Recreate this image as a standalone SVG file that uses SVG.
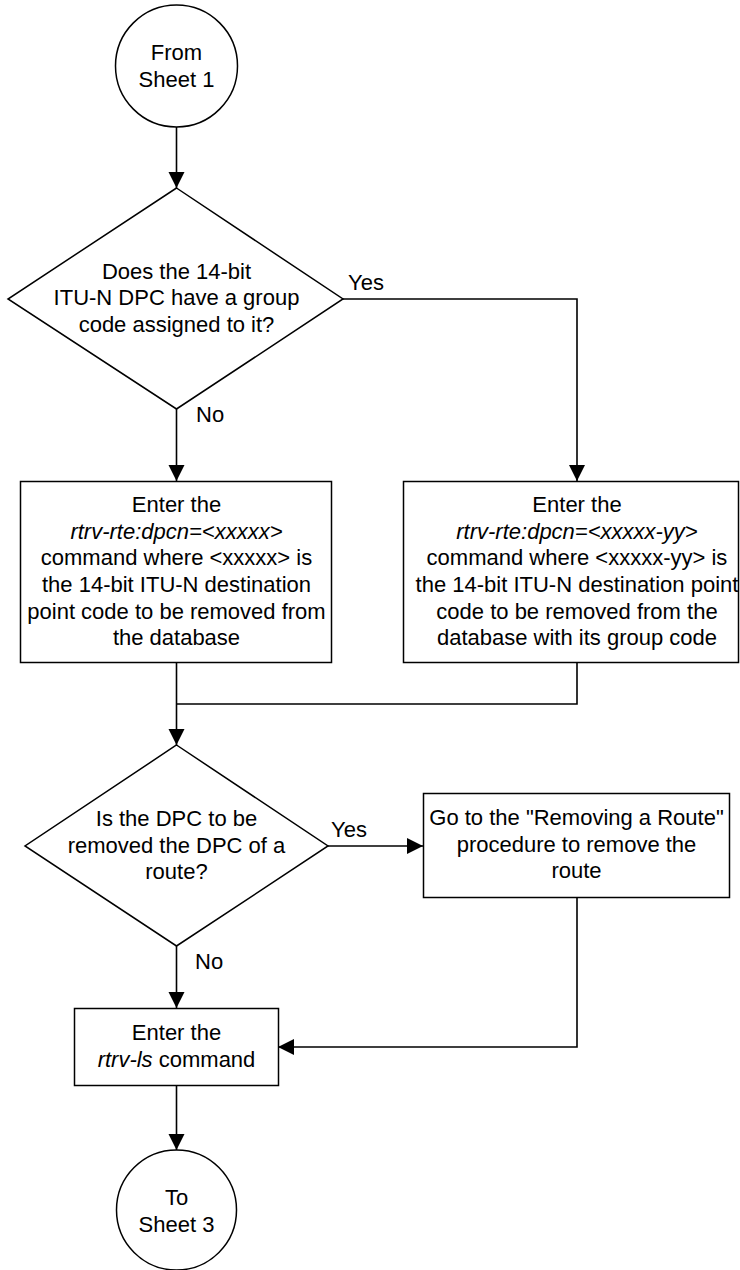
<svg xmlns="http://www.w3.org/2000/svg" width="740" height="1270" viewBox="0 0 740 1270">
<style>
.s{fill:#fff;stroke:#000;stroke-width:1.5}
.c{fill:none;stroke:#000;stroke-width:1.6}
text{font-family:"Liberation Sans",Arial,Helvetica,sans-serif;font-size:22px;fill:#000;text-anchor:middle}
.l{text-anchor:start}
.i{font-style:italic}
</style>
<defs>
<marker id="a" markerUnits="userSpaceOnUse" markerWidth="17" markerHeight="17" refX="16" refY="8" orient="auto">
<path d="M0,0 L16,8 L0,16 z" fill="#000"/>
</marker>
</defs>
<rect width="740" height="1270" fill="#fff"/>
<g id="connectors">
<line class="c" x1="176.5" y1="127" x2="176.5" y2="188" marker-end="url(#a)"/>
<polyline class="c" points="343,299 577,299 577,481" marker-end="url(#a)"/>
<line class="c" x1="176.5" y1="409" x2="176.5" y2="481" marker-end="url(#a)"/>
<line class="c" x1="176.5" y1="663" x2="176.5" y2="745" marker-end="url(#a)"/>
<polyline class="c" points="577,663 577,704 176.5,704"/>
<line class="c" x1="328" y1="846" x2="423" y2="846" marker-end="url(#a)"/>
<line class="c" x1="176.5" y1="946" x2="176.5" y2="1008" marker-end="url(#a)"/>
<polyline class="c" points="577,897 577,1047 278,1047" marker-end="url(#a)"/>
<line class="c" x1="176.5" y1="1086" x2="176.5" y2="1150" marker-end="url(#a)"/>
<text class="l" x="348" y="290">Yes</text>
<text class="l" x="196" y="422">No</text>
<text class="l" x="331" y="837">Yes</text>
<text class="l" x="195" y="969">No</text>
</g>
<g id="start">
<circle class="s" cx="176.5" cy="66" r="61"/>
<text x="176.5" y="60">From</text>
<text x="176.5" y="87">Sheet 1</text>
</g>
<g id="decision1">
<polygon class="s" points="176.5,188 343,299 176.5,409 8,299"/>
<text x="176.5" y="279">Does the 14-bit</text>
<text x="176.5" y="305">ITU-N DPC have a group</text>
<text x="176.5" y="332">code assigned to it?</text>
</g>
<g id="boxLeft">
<rect class="s" x="20.5" y="481.5" width="311" height="181"/>
<text x="176.5" y="512">Enter the</text>
<text x="176.5" y="538.5" class="i">rtrv-rte:dpcn=&lt;xxxxx&gt;</text>
<text x="176.5" y="565">command where &lt;xxxxx&gt; is</text>
<text x="176.5" y="592">the 14-bit ITU-N destination</text>
<text x="176.5" y="618.5">point code to be removed from</text>
<text x="176.5" y="645">the database</text>
</g>
<g id="boxRight">
<rect class="s" x="403.5" y="481.5" width="335" height="181"/>
<text x="577" y="512">Enter the</text>
<text x="577" y="538.5" class="i">rtrv-rte:dpcn=&lt;xxxxx-yy&gt;</text>
<text x="577" y="565">command where &lt;xxxxx-yy&gt; is</text>
<text x="577" y="592">the 14-bit ITU-N destination point</text>
<text x="577" y="618.5">code to be removed from the</text>
<text x="577" y="645">database with its group code</text>
</g>
<g id="decision2">
<polygon class="s" points="176.5,745 328,846 176.5,946 25,846"/>
<text x="176.5" y="826">Is the DPC to be</text>
<text x="176.5" y="852.5">removed the DPC of a</text>
<text x="176.5" y="879">route?</text>
</g>
<g id="boxRoute">
<rect class="s" x="423.5" y="793.5" width="306" height="104"/>
<text x="576.5" y="825">Go to the "Removing a Route"</text>
<text x="576.5" y="851.5">procedure to remove the</text>
<text x="576.5" y="878">route</text>
</g>
<g id="boxLs">
<rect class="s" x="74.5" y="1008.5" width="204" height="77"/>
<text x="176.5" y="1040">Enter the</text>
<text x="176.5" y="1067"><tspan class="i">rtrv-ls</tspan> command</text>
</g>
<g id="end">
<circle class="s" cx="176.5" cy="1210" r="60"/>
<text x="176.5" y="1205">To</text>
<text x="176.5" y="1232">Sheet 3</text>
</g>
</svg>
